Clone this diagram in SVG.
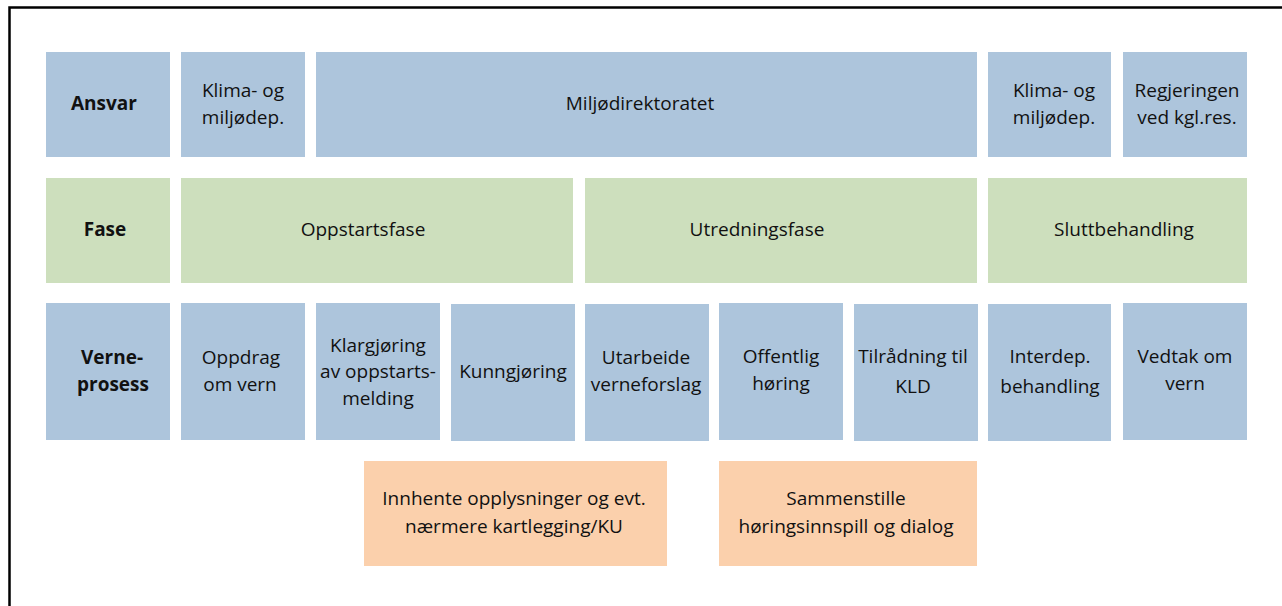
<svg xmlns="http://www.w3.org/2000/svg" width="1282" height="606" viewBox="0 0 1282 606">
<style>
.b{fill:#adc5dc}
.g{fill:#cddfbd}
.o{fill:#fbd0ac}
text{font-family:"Open Sans","Noto Sans",sans-serif;font-size:19px;fill:#111;text-anchor:middle}
.h{font-weight:bold}
</style>
<rect x="0" y="0" width="1282" height="606" fill="#fff"/>
<path d="M9.5 606 V7.5 H1282" fill="none" stroke="#000" stroke-width="2.5"/>
<g id="row-ansvar">
<g id="ansvar-label"><rect class="b" x="46" y="52" width="124" height="105"/><text class="h" x="104" y="110">Ansvar</text></g>
<g id="ansvar-kld1"><rect class="b" x="181" y="52" width="124" height="105"/><text x="243" y="97">Klima- og</text><text x="243" y="124">miljødep.</text></g>
<g id="ansvar-mdir"><rect class="b" x="316" y="52" width="661" height="105"/><text x="640" y="110">Miljødirektoratet</text></g>
<g id="ansvar-kld2"><rect class="b" x="988" y="52" width="123" height="105"/><text x="1054" y="97">Klima- og</text><text x="1054" y="124">miljødep.</text></g>
<g id="ansvar-reg"><rect class="b" x="1123" y="52" width="124" height="105"/><text x="1187" y="97">Regjeringen</text><text x="1187" y="124">ved kgl.res.</text></g>
</g>
<g id="row-fase">
<g id="fase-label"><rect class="g" x="46" y="178" width="124" height="105"/><text class="h" x="105" y="236">Fase</text></g>
<g id="fase-oppstart"><rect class="g" x="181" y="178" width="392" height="105"/><text x="363" y="236">Oppstartsfase</text></g>
<g id="fase-utredning"><rect class="g" x="585" y="178" width="392" height="105"/><text x="757" y="236">Utredningsfase</text></g>
<g id="fase-slutt"><rect class="g" x="988" y="178" width="259" height="105"/><text x="1124" y="236">Sluttbehandling</text></g>
</g>
<g id="row-verneprosess">
<g id="vp-label"><rect class="b" x="46" y="303" width="124" height="137"/><text class="h" x="112" y="364">Verne-</text><text class="h" x="113" y="391">prosess</text></g>
<g id="vp-oppdrag"><rect class="b" x="181" y="303" width="124" height="137"/><text x="241" y="364">Oppdrag</text><text x="240" y="391">om vern</text></g>
<g id="vp-klargjoring"><rect class="b" x="316" y="303" width="124" height="137"/><text x="378" y="352">Klargjøring</text><text x="378" y="378">av oppstarts-</text><text x="378" y="405">melding</text></g>
<g id="vp-kunngjoring"><rect class="b" x="451" y="304" width="124" height="137"/><text x="513" y="378">Kunngjøring</text></g>
<g id="vp-utarbeide"><rect class="b" x="585" y="304" width="124" height="137"/><text x="646" y="364">Utarbeide</text><text x="646" y="391">verneforslag</text></g>
<g id="vp-horing"><rect class="b" x="719" y="303" width="124" height="137"/><text x="781" y="363">Offentlig</text><text x="781" y="390">høring</text></g>
<g id="vp-tilradning"><rect class="b" x="854" y="304" width="124" height="137"/><text x="913" y="363">Tilrådning til</text><text x="913" y="393">KLD</text></g>
<g id="vp-interdep"><rect class="b" x="988" y="304" width="123" height="137"/><text x="1050" y="363">Interdep.</text><text x="1050" y="393">behandling</text></g>
<g id="vp-vedtak"><rect class="b" x="1123" y="303" width="124" height="137"/><text x="1185" y="363">Vedtak om</text><text x="1185" y="390">vern</text></g>
</g>
<g id="row-aktiviteter">
<g id="akt-innhente"><rect class="o" x="364" y="461" width="303" height="105"/><text x="514" y="505">Innhente opplysninger og evt.</text><text x="514" y="533">nærmere kartlegging/KU</text></g>
<g id="akt-sammenstille"><rect class="o" x="719" y="461" width="258" height="105"/><text x="846" y="505">Sammenstille</text><text x="846" y="533">høringsinnspill og dialog</text></g>
</g>
<g id="connectors"/>
</svg>
